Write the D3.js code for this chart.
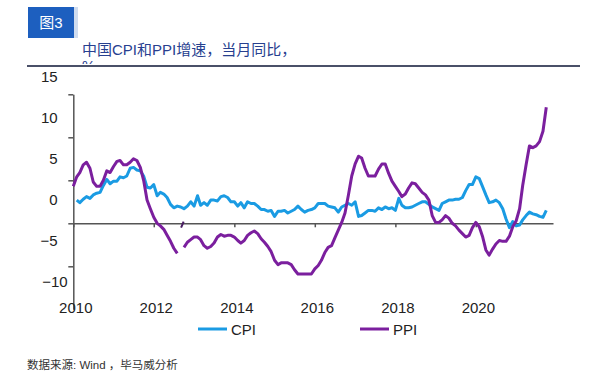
<!DOCTYPE html>
<html>
<head>
<meta charset="utf-8">
<script src="https://cdn.jsdelivr.net/npm/d3@7"></script>
<style>
  body { margin: 0; background: #fff; }
  text { font-family: "Liberation Sans", Arial, "Noto Sans CJK SC", sans-serif; }
</style>
</head>
<body>
<div id="container"></div>
<script>
// monthly series, Jan 2010 .. Oct 2021 (null = no point drawn)
const cpi = [
    null, 2.7, 2.4, 2.8, 3.1, 2.9, 3.3, 3.5, 3.6, 4.4, 5.1, 4.6,
    4.9, 4.9, 5.4, 5.3, 5.5, 6.4, 6.5, 6.2, 6.1, 5.5, 4.2, 4.1,
    4.5, 3.2, 3.6, 3.4, 3.0, 2.2, 1.8, 2.0, 1.9, 1.7, 2.0, 2.5,
    2.0, 3.2, 2.1, 2.4, 2.1, 2.7, 2.7, 2.6, 3.1, 3.2, 3.0, 2.5,
    2.5, 2.0, 2.4, 1.8, 2.5, 2.3, 2.3, 2.0, 1.6, 1.6, 1.4, 1.5,
    0.8, 1.4, 1.4, 1.5, 1.2, 1.4, 1.6, 2.0, 1.6, 1.3, 1.5, 1.6,
    1.8, 2.3, 2.3, 2.3, 2.0, 1.9, 1.8, 1.3, 1.9, 2.1, 2.3, 2.1,
    2.5, 0.8, 0.9, 1.2, 1.5, 1.5, 1.4, 1.8, 1.6, 1.9, 1.7, 1.8,
    1.5, 2.9, 2.1, 1.8, 1.8, 1.9, 2.1, 2.3, 2.5, 2.5, 2.2, 1.9,
    1.7, 1.5, 2.3, 2.5, 2.7, 2.7, 2.8, 2.8, 3.0, 3.8, 4.5, 4.5,
    5.4, 5.2, 4.3, 3.3, 2.4, 2.5, 2.7, 2.4, 1.7, 0.5, -0.5, 0.2,
    -0.3, -0.2, 0.4, 0.9, 1.3, 1.1, 1.0, 0.8, 0.7, 1.5
];
const ppi = [
    4.3, 5.4, 5.9, 6.8, 7.1, 6.4, 4.8, 4.3, 4.3, 5.0, 6.1, 5.9,
    6.6, 7.2, 7.3, 6.8, 6.8, 7.1, 7.5, 7.3, 6.5, 5.0, 2.7, 1.7,
    0.7, 0.0, -0.3, -0.7, -1.4, -2.1, -2.9, -3.5, null, -2.8, -2.2, -1.9,
    -1.6, -1.6, -1.9, -2.6, -2.9, -2.7, -2.3, -1.6, -1.3, -1.5, -1.4, -1.4,
    -1.6, -2.0, -2.3, -2.0, -1.4, -1.1, -0.9, -1.2, -1.8, -2.2, -2.7, -3.3,
    -4.3, -4.8, -4.6, -4.6, -4.6, -4.8, -5.4, -5.9, -5.9, -5.9, -5.9, -5.9,
    -5.3, -4.9, -4.3, -3.4, -2.8, -2.6, -1.7, -0.8, 0.1, 1.2, 3.3, 5.5,
    6.9, 7.8, 7.6, 6.4, 5.5, 5.5, 5.5, 6.3, 6.9, 6.9, 5.8, 4.9,
    4.3, 3.7, 3.1, 3.4, 4.1, 4.7, 4.6, 4.1, 3.6, 3.3, 2.7, 0.9,
    0.1, 0.1, 0.4, 0.9, 0.6, 0.0, -0.3, -0.8, -1.2, -1.6, -1.4, -0.5,
    0.1, -0.4, -1.5, -3.1, -3.7, -3.0, -2.4, -2.0, -2.1, -2.1, -1.5, -0.4,
    0.3, 1.7, 4.4, 6.8, 9.0, 8.8, 9.0, 9.5, 10.7, 13.5
];
// the stray little PPI stroke in Sep 2012
const ppiStray = [
    { date: new Date(2012, 8, 5), v: -0.5 },
    { date: new Date(2012, 8, 28), v: 0.2 }
];
const yTicks = [-10, -5, 0, 5, 10, 15];
const xTickYears = [2010, 2012, 2014, 2016, 2018, 2020];

const start = new Date(2010, 0, 1);
const toRows = (arr) => arr.map((v, i) => ({ date: d3.timeMonth.offset(start, i), v: v }));
const cpiData = toRows(cpi);
const ppiData = toRows(ppi);

const CPI_COLOR = '#1a9be3';
const PPI_COLOR = '#7b1f9e';
const AXIS_COLOR = '#555';

const svg = d3.select('#container')
    .append('svg')
    .attr('width', 600)
    .attr('height', 375);

svg.append('rect').attr('width', 600).attr('height', 375).attr('fill', '#fff');

// header
svg.append('rect').attr('x', 74).attr('y', 7).attr('width', 4).attr('height', 31).attr('fill', '#cfdcef');
svg.append('rect').attr('x', 28).attr('y', 7).attr('width', 46).attr('height', 31).attr('fill', '#1d5fbf');
svg.append('text')
    .attr('x', 51).attr('y', 28)
    .attr('text-anchor', 'middle')
    .attr('fill', '#fff')
    .style('font-size', '15px')
    .text('图3');
svg.append('text')
    .attr('x', 82).attr('y', 55)
    .attr('fill', '#27408f')
    .style('font-size', '15px')
    .text('中国CPI和PPI增速，当月同比，');

svg.append('clipPath').attr('id', 'cut')
    .append('rect').attr('x', 0).attr('y', 56).attr('width', 600).attr('height', 8);
svg.append('text')
    .attr('x', 82).attr('y', 71)
    .attr('fill', '#27408f')
    .attr('clip-path', 'url(#cut)')
    .style('font-size', '15px')
    .text('%');

svg.append('line')
    .attr('x1', 27).attr('x2', 580)
    .attr('y1', 66).attr('y2', 66)
    .attr('stroke', '#4a5068')
    .attr('stroke-width', 2);

// scales
const xScale = d3.scaleTime()
    .domain([new Date(2010, 0, 1), new Date(2021, 11, 1)])
    .range([73.3, 553]);
const yScale = d3.scaleLinear().domain([-10, 15]).range([309.3, 94.3]);
// the labels of the source sit on their own, tighter spacing
const yLabelScale = d3.scaleLinear().domain([-10, 15]).range([281.3, 76.3]);

// y axis line + tick marks
const yAxisGroup = svg.append('g')
    .attr('transform', 'translate(73.3,0)')
    .call(d3.axisLeft(yScale).tickValues([-5, 0, 5, 10, 15]).tickSize(5).tickSizeOuter(0).tickFormat(''));
yAxisGroup.selectAll('path, line').attr('stroke', AXIS_COLOR).attr('stroke-width', 1.5);

// y labels
const yLabelGroup = svg.append('g')
    .attr('transform', 'translate(73.3,0)')
    .call(d3.axisLeft(yLabelScale).tickValues(yTicks).tickSize(0).tickPadding(15.6));
yLabelGroup.select('.domain').remove();
yLabelGroup.selectAll('text')
    .attr('fill', '#222')
    .style('font-size', '15px')
    .attr('dx', (d) => d === -10 ? 10 : 0);

// x axis at zero
const xAxisGroup = svg.append('g')
    .attr('transform', 'translate(0,' + yScale(0) + ')')
    .call(d3.axisBottom(xScale)
        .tickValues(xTickYears.map((y) => new Date(y, 0, 1)))
        .tickSize(4).tickSizeOuter(0).tickFormat(''));
xAxisGroup.selectAll('path, line').attr('stroke', AXIS_COLOR).attr('stroke-width', 1.5);

// x labels
const xLabelGroup = svg.append('g')
    .attr('transform', 'translate(0,299.4)')
    .call(d3.axisBottom(xScale)
        .tickValues(xTickYears.map((y) => new Date(y, 0, 1)))
        .tickSize(0).tickPadding(3)
        .tickFormat(d3.timeFormat('%Y')));
xLabelGroup.select('.domain').remove();
xLabelGroup.selectAll('text')
    .attr('fill', '#222')
    .attr('dx', 2)
    .style('font-size', '15px');

// lines
const lineMaker = d3.line()
    .defined((d) => d.v !== null)
    .x((d) => xScale(d.date))
    .y((d) => yScale(d.v));

svg.append('path')
    .datum(cpiData)
    .attr('d', lineMaker)
    .attr('fill', 'none')
    .attr('stroke', CPI_COLOR)
    .attr('stroke-width', 3)
    .attr('stroke-linejoin', 'round');

svg.append('path')
    .datum(ppiData)
    .attr('d', lineMaker)
    .attr('fill', 'none')
    .attr('stroke', PPI_COLOR)
    .attr('stroke-width', 3)
    .attr('stroke-linejoin', 'round');

svg.append('path')
    .datum(ppiStray)
    .attr('d', lineMaker)
    .attr('fill', 'none')
    .attr('stroke', '#4a1d63')
    .attr('stroke-width', 2);

// legend
const legend = [
    { name: 'CPI', color: CPI_COLOR, x: 198 },
    { name: 'PPI', color: PPI_COLOR, x: 360 }
];
legend.forEach((it) => {
    svg.append('line')
        .attr('x1', it.x).attr('x2', it.x + 29)
        .attr('y1', 329).attr('y2', 329)
        .attr('stroke', it.color)
        .attr('stroke-width', 3);
    svg.append('text')
        .attr('x', it.x + 33).attr('y', 334.5)
        .attr('fill', '#222')
        .style('font-size', '15px')
        .text(it.name);
});

// source
svg.append('text')
    .attr('x', 27).attr('y', 369)
    .attr('fill', '#333')
    .style('font-size', '11.5px')
    .text('数据来源: Wind ，毕马威分析');
</script>
</body>
</html>
